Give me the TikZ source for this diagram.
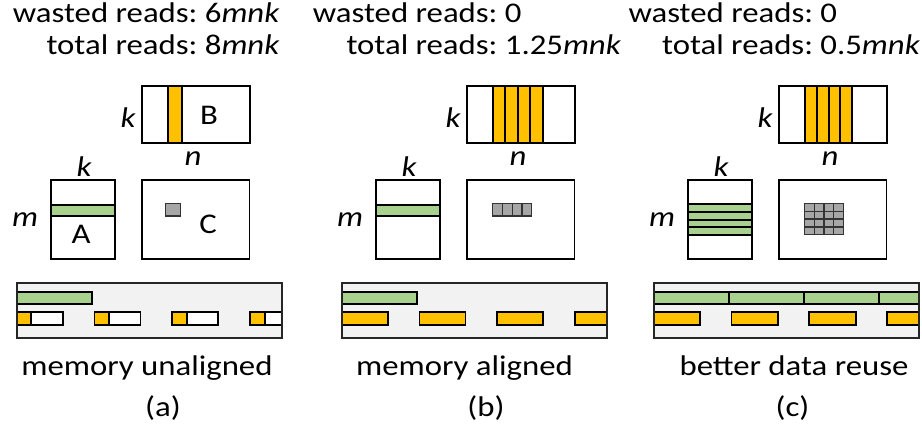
\documentclass[tikz,border=0pt]{standalone}
\usepackage{fontspec}
\setmainfont{Carlito}[FakeStretch=1.15]
\usetikzlibrary{positioning}
\definecolor{readorange}{HTML}{FFC000}
\definecolor{readgreen}{HTML}{A9D18E}
\definecolor{readgray}{HTML}{A6A6A6}
\definecolor{membg}{HTML}{F2F2F2}

\begin{document}
\begin{tikzpicture}[
  x=1pt, y=-1pt,
  matbox/.style={draw=black, line width=1.9pt},
  bstrip/.style={draw=black, line width=1.9pt, fill=readorange},
  astrip/.style={draw=black, line width=1.9pt, fill=readgreen},
  cblock/.style={draw=black!80, line width=1.2pt, fill=readgray},
  emptyseg/.style={draw=black, line width=1.9pt, fill=white},
  membar/.style={draw=black!85, line width=1.9pt},
  txt/.style={inner sep=0pt, anchor=base, font=\fontsize{28.5}{32}\selectfont},
  var/.style={txt, font=\fontsize{28.5}{32}\selectfont\itshape},
  reads/.style={txt, anchor=base west}
]
\useasboundingbox (0,0) rectangle (922,435);

% read counts
\node[reads] (reads-a) at (12.7,23) {\begin{tabular}[t]{@{}r@{~}l@{}}wasted reads: & 6\textit{mnk}\\ total reads: & 8\textit{mnk}\end{tabular}};
\node[reads] (reads-b) at (312.7,23) {\begin{tabular}[t]{@{}r@{~}l@{}}wasted reads: & 0\\ total reads: & 1.25\textit{mnk}\end{tabular}};
\node[reads] (reads-c) at (628.3,23) {\begin{tabular}[t]{@{}r@{~}l@{}}wasted reads: & 0\\ total reads: & 0.5\textit{mnk}\end{tabular}};

% memory backgrounds
\foreach \dx in {0,325,637}
  \fill[membg, xshift=\dx] (16.7,283) rectangle (282,338.3);

% (a) unaligned
\draw[bstrip] (167.7,86) rectangle (182,143);
\draw[astrip] (51,205) rectangle (114.7,216.3);
\draw[cblock] (165.7,203.3) rectangle (180.3,216);
\node[txt] (B-a) at (209,125) {B};
\node[txt] (A-a) at (81,244) {A};
\node[txt] (C-a) at (208,234) {C};
\begin{scope}
  \clip (16.7,283) rectangle (282,338.3);
  \draw[astrip] (16.7,291.7) rectangle (92.3,304);
  \foreach \i in {0,...,3} {
    \draw[emptyseg] ({31.2+77.8*\i},312.3) rectangle +(31.5,12.7);
    \draw[bstrip] ({16.7+77.8*\i},312.3) rectangle +(14.5,12.7);
  }
\end{scope}

% (b) aligned
\begin{scope}[xshift=325]
  \foreach \i in {0,...,3}
    \draw[bstrip] ({167.7+12.5*\i},86) rectangle +(12.5,57);
  \draw[astrip] (51,205) rectangle (114.7,216.3);
  \foreach \i in {0,...,3}
    \draw[cblock] ({167.7+9.75*\i},203.3) rectangle +(9.75,12.7);
  \begin{scope}
    \clip (16.7,283) rectangle (282,338.3);
    \draw[astrip] (16.7,291.7) rectangle (92.3,304);
    \foreach \i in {0,...,3}
      \draw[bstrip] ({16.7+77.8*\i},312.3) rectangle +(46,12.7);
  \end{scope}
\end{scope}

% (c) reuse
\begin{scope}[xshift=637]
  \foreach \i in {0,...,3}
    \draw[bstrip] ({168+11.8*\i},86) rectangle +(11.8,57);
  \foreach \j in {0,...,3}
    \draw[astrip] (51,{204.3+7.7*\j}) rectangle +(63.7,7.7);
  \foreach \i in {0,...,3}
    \foreach \j in {0,...,3}
      \draw[cblock] ({167.7+9.65*\i},{203.3+7.9*\j}) rectangle +(9.65,7.9);
  \begin{scope}
    \clip (16.7,283) rectangle (282,338.3);
    \foreach \i in {0,...,3}
      \draw[astrip] ({16.7+75.2*\i},291.7) rectangle +(75.2,12);
    \foreach \i in {0,...,3}
      \draw[bstrip] ({16.7+77.8*\i},312.3) rectangle +(46.6,12.7);
  \end{scope}
\end{scope}

% matrices, memory outline and dimensions
\foreach \dx/\p in {0/a,325/b,637/c} {
  \begin{scope}[xshift=\dx]
    \draw[matbox] (141.7,86) rectangle (250.2,143);
    \draw[matbox] (51,180) rectangle (114.7,258.7);
    \draw[matbox] (141.7,180) rectangle (249.5,258.7);
    \draw[membar] (16.7,283) rectangle (282,338.3);
    \node[var] (kB-\p) at (128,128) {k};
    \node[var] (n-\p) at (193,166) {n};
    \node[var] (kA-\p) at (84,177) {k};
    \node[var] (m-\p) at (25,227) {m};
  \end{scope}
}

% captions
\node[txt] (cap-a) at (147,376) {memory unaligned};
\node[txt] (cap-b) at (464.5,376) {memory aligned};
\node[txt] (cap-c) at (794,376) {better data reuse};
\node[txt] (tag-a) at (163,417) {(a)};
\node[txt] (tag-b) at (486,417) {(b)};
\node[txt] (tag-c) at (792.5,417) {(c)};
\end{tikzpicture}
\end{document}
